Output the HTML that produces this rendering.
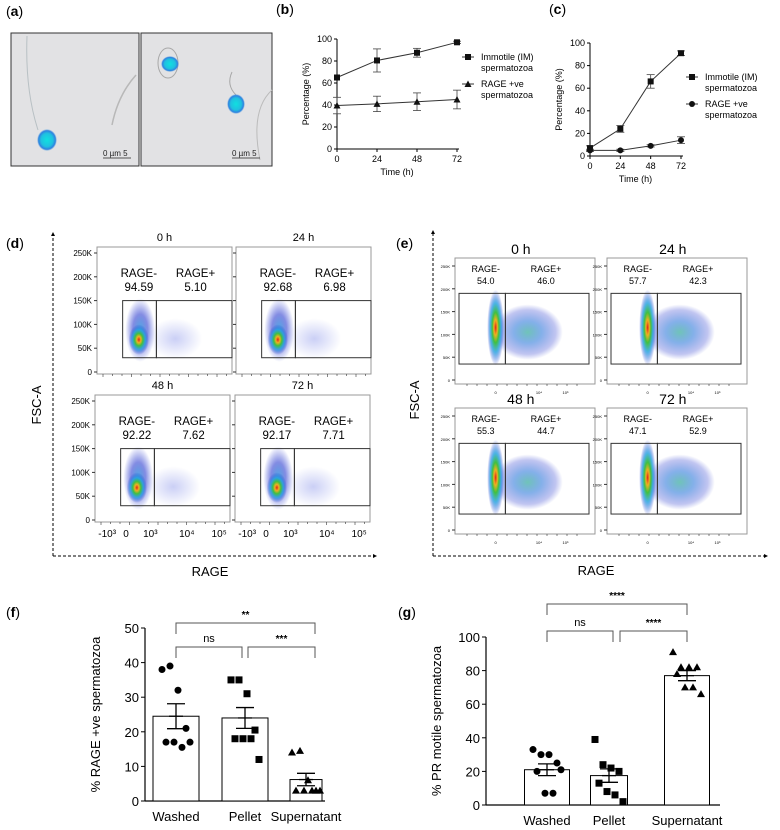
<!DOCTYPE html>
<html><head><meta charset="utf-8"><style>
body{margin:0;background:#fff}
svg{display:block;font-family:"Liberation Sans",Arial,sans-serif}
</style></head><body>
<svg id="fig" width="780" height="830" viewBox="0 0 780 830" xmlns="http://www.w3.org/2000/svg">
<defs>
<radialGradient id="hot"><stop offset="0" stop-color="#e0201a"/><stop offset="0.2" stop-color="#f0b020"/><stop offset="0.4" stop-color="#40c040"/><stop offset="0.65" stop-color="#20a0e0" stop-opacity="0.8"/><stop offset="1" stop-color="#2030d0" stop-opacity="0"/></radialGradient>
<radialGradient id="warm"><stop offset="0" stop-color="#30a0e0" stop-opacity="0.85"/><stop offset="0.5" stop-color="#3040d0" stop-opacity="0.6"/><stop offset="1" stop-color="#3040d0" stop-opacity="0"/></radialGradient>
<radialGradient id="cloud"><stop offset="0" stop-color="#40b0a0" stop-opacity="0.75"/><stop offset="0.4" stop-color="#2070d8" stop-opacity="0.55"/><stop offset="0.8" stop-color="#3040d0" stop-opacity="0.3"/><stop offset="1" stop-color="#3040d0" stop-opacity="0"/></radialGradient>
<radialGradient id="faint"><stop offset="0" stop-color="#5060e0" stop-opacity="0.3"/><stop offset="1" stop-color="#5060e0" stop-opacity="0"/></radialGradient>
<radialGradient id="cell"><stop offset="0" stop-color="#10e0e0"/><stop offset="0.6" stop-color="#20c0e0"/><stop offset="0.85" stop-color="#3080e0"/><stop offset="1" stop-color="#40a0e0" stop-opacity="0"/></radialGradient>
<marker id="arr" viewBox="0 0 10 10" refX="5" refY="5" markerWidth="4" markerHeight="4" orient="auto"><path d="M0,0L10,5L0,10z" fill="#000"/></marker>
</defs>

<text x="6" y="16" font-size="14">(<tspan font-weight="bold">a</tspan>)</text>
<g>
<rect x="11" y="33" width="128" height="133" fill="#e2e2e4" stroke="#333" stroke-width="1"/>
<path d="M27,36 Q25,90 38,130" stroke="#b8c0c4" fill="none" stroke-width="1"/>
<path d="M136,75 Q118,95 112,125" stroke="#b8b8b8" fill="none" stroke-width="1.5"/>
<ellipse cx="47" cy="140" rx="10" ry="11" fill="url(#cell)"/>
<text x="103" y="156" font-size="8" fill="#222">0 µm 5</text>
<line x1="103" y1="158" x2="131" y2="158" stroke="#222" stroke-width="0.7"/>
</g>
<g>
<rect x="141" y="33" width="131" height="133" fill="#e2e2e4" stroke="#333" stroke-width="1"/>
<ellipse cx="168" cy="63" rx="10" ry="15" fill="none" stroke="#a8a8a8"/>
<ellipse cx="170" cy="64" rx="9" ry="8" fill="url(#cell)"/>
<path d="M232,72 Q226,85 236,95" stroke="#a8a8a8" fill="none"/>
<ellipse cx="236" cy="104" rx="9" ry="10" fill="url(#cell)"/>
<path d="M272,90 Q250,110 260,160" stroke="#bbb" fill="none"/>
<text x="232" y="156" font-size="8" fill="#222">0 µm 5</text>
<line x1="232" y1="158" x2="260" y2="158" stroke="#222" stroke-width="0.7"/>
</g>

<text x="276" y="14" font-size="14">(<tspan font-weight="bold">b</tspan>)</text>
<g id="chartB"></g>
<text x="549" y="14" font-size="14">(<tspan font-weight="bold">c</tspan>)</text>
<g id="chartC"></g>

<text x="6" y="248" font-size="14">(<tspan font-weight="bold">d</tspan>)</text>
<line x1="53" y1="556" x2="53" y2="234" stroke="#000" stroke-dasharray="3,2" marker-end="url(#arr)"/>
<line x1="53" y1="556" x2="375" y2="556" stroke="#000" stroke-dasharray="3,2" marker-end="url(#arr)"/>
<text transform="translate(41,405) rotate(-90)" font-size="13" text-anchor="middle">FSC-A</text>
<text x="210" y="576" font-size="13" text-anchor="middle">RAGE</text>
<g id="flowD"></g>

<text x="396" y="248" font-size="14">(<tspan font-weight="bold">e</tspan>)</text>
<line x1="433" y1="556" x2="433" y2="232" stroke="#000" stroke-dasharray="3,2" marker-end="url(#arr)"/>
<line x1="433" y1="556" x2="766" y2="556" stroke="#000" stroke-dasharray="3,2" marker-end="url(#arr)"/>
<text transform="translate(419,400) rotate(-90)" font-size="13" text-anchor="middle">FSC-A</text>
<text x="596" y="575" font-size="13" text-anchor="middle">RAGE</text>
<g id="flowE"></g>

<text x="6" y="617" font-size="14">(<tspan font-weight="bold">f</tspan>)</text>
<g id="chartF"></g>
<text x="398" y="617" font-size="14">(<tspan font-weight="bold">g</tspan>)</text>
<g id="chartG"></g>
</svg>
<script>
const bTimes=[0,24,48,72];
const bImm=[65,80.5,87.5,97];
const bImmErr=[0,10.5,4,1];
const bRage=[39.5,41,43,45];
const bRageErr=[7.5,7,8,8.5];
const cTimes=[0,24,48,72];
const cImm=[7,24,66,91];
const cImmErr=[2,3,6,2];
const cRage=[5,5,9,14];
const cRageErr=[1,1,1,3];
const yTicks=[0,20,40,60,80,100];
const xTicksTime=[0,24,48,72];

const fCats=['Washed','Pellet','Supernatant'];
const fMeans=[24.5,24,6.2];
const fSem=[3.6,3,1.8];
const fWashed=[38,39,32,21,17,17,15.5,17];
const fPellet=[35,35,31,20.5,18,18,18,12];
const fSuper=[14,14.5,6,3,3,3,3,3];
const fTicks=[0,10,20,30,40,50];
const gCats=['Washed','Pellet','Supernatant'];
const gMeans=[21,17.5,77];
const gSem=[3.5,4,3];
const gWashed=[33,30,30,25,20,7,7,21];
const gPellet=[39,24,22,20,13,8,6,2];
const gSuper=[91,82,82,82,78,70,70,66];
const gTicks=[0,20,40,60,80,100];

const dTitles=['0 h','24 h','48 h','72 h'];
const dNeg=['94.59','92.68','92.22','92.17'];
const dPos=['5.10','6.98','7.62','7.71'];
const eTitles=['0 h','24 h','48 h','72 h'];
const eNeg=['54.0','57.7','55.3','47.1'];
const ePos=['46.0','42.3','44.7','52.9'];

const NS='http://www.w3.org/2000/svg';
function mk(parent,tag,attrs,text){const e=document.createElementNS(NS,tag);for(const k in attrs)e.setAttribute(k,attrs[k]);if(text!==undefined)e.textContent=text;parent.appendChild(e);return e;}

function lineChart(g,x,y,times,s1,e1,s2,e2,m2,legX,legY){
  const x0=x(0),y0=y(0);
  let el=mk(g,'line',{x1:x0,y1:y(100),x2:x0,y2:y0,stroke:'#000','stroke-width':1});
  
  
  el=mk(g,'line',{x1:x0,y1:y0,x2:x(72)+2,y2:y0,stroke:'#000','stroke-width':1});
  
  
  yTicks.forEach(v=>{mk(g,'line',{x1:x0-3,y1:y(v),x2:x0,y2:y(v),stroke:'#000'});
    el=mk(g,'text',{x:x0-5,y:y(v)+3,'font-size':9,'text-anchor':'end'},v);
    
    });
  xTicksTime.forEach(v=>{mk(g,'line',{x1:x(v),y1:y0,x2:x(v),y2:y0+3,stroke:'#000'});
    el=mk(g,'text',{x:x(v),y:y0+13,'font-size':9,'text-anchor':'middle'},v);
    
    });
  el=mk(g,'text',{x:(x0+x(72))/2,y:y0+26,'font-size':9,'text-anchor':'middle'},'Time (h)');
  
  
  el=mk(g,'text',{transform:`translate(${x0-28},${(y(100)+y0)/2}) rotate(-90)`,'font-size':9,'text-anchor':'middle'},'Percentage (%)');
  
  
  function series(vals,errs,marker,name){
    const pts=times.map((t,i)=>x(t)+','+y(vals[i])).join(' ');
    let p=mk(g,'polyline',{points:pts,fill:'none',stroke:'#333','stroke-width':1});
    
    
    times.forEach((t,i)=>{
      const cx=x(t),cy=y(vals[i]);
      if(errs[i]>0){mk(g,'line',{x1:cx,y1:y(vals[i]+errs[i]),x2:cx,y2:y(vals[i]-errs[i]),stroke:'#444','stroke-width':0.8});
        mk(g,'line',{x1:cx-4,y1:y(vals[i]+errs[i]),x2:cx+4,y2:y(vals[i]+errs[i]),stroke:'#444','stroke-width':0.8});
        mk(g,'line',{x1:cx-4,y1:y(vals[i]-errs[i]),x2:cx+4,y2:y(vals[i]-errs[i]),stroke:'#444','stroke-width':0.8});}
      let m;
      if(marker==='sq') m=mk(g,'rect',{x:cx-3,y:cy-3,width:6,height:6,fill:'#111'});
      else if(marker==='tri') m=mk(g,'path',{d:`M${cx},${cy-3.5}L${cx+3.5},${cy+3}L${cx-3.5},${cy+3}Z`,fill:'#111'});
      else m=mk(g,'circle',{cx:cx,cy:cy,r:3,fill:'#111'});
      
      
    });
  }
  series(s1,e1,'sq','immotile');
  series(s2,e2,m2,'rage-positive');
  const L=[[legY,'sq','Immotile (IM)'],[legY+27,m2,'RAGE +ve']];
  L.forEach(([ly,mkr,t])=>{
    mk(g,'line',{x1:legX-6,y1:ly,x2:legX+6,y2:ly,stroke:'#333'});
    if(mkr==='sq') mk(g,'rect',{x:legX-3,y:ly-3,width:6,height:6,fill:'#111'});
    else if(mkr==='tri') mk(g,'path',{d:`M${legX},${ly-3.5}L${legX+3.5},${ly+3}L${legX-3.5},${ly+3}Z`,fill:'#111'});
    else mk(g,'circle',{cx:legX,cy:ly,r:3,fill:'#111'});
    let tt=mk(g,'text',{x:legX+13,y:ly+3,'font-size':9},t);
    
    
    mk(g,'text',{x:legX+13,y:ly+14,'font-size':9},'spermatozoa');
  });
}
lineChart(document.getElementById('chartB'),t=>337+t*120/72,v=>149-v*1.1,bTimes,bImm,bImmErr,bRage,bRageErr,'tri',468,57);
lineChart(document.getElementById('chartC'),t=>590+t*91/72,v=>156-v*1.13,cTimes,cImm,cImmErr,cRage,cRageErr,'circ',692,77);

function flowPanel(g,bx,by,w,h,title,neg,pos,style,showY){
  let r=mk(g,'rect',{x:bx,y:by,width:w,height:h,fill:'#fff',stroke:'#999','stroke-width':1});
  
  
  if(style==='d'){
    const yz=by+h-2, ys=(h-8)/250;
    const yv=v=>yz-v*ys;
    [0,50,100,150,200,250].forEach(v=>{mk(g,'line',{x1:bx-3,y1:yv(v),x2:bx,y2:yv(v),stroke:'#333'});
      if(showY) mk(g,'text',{x:bx-5,y:yv(v)+3,'font-size':8,'text-anchor':'end'},v===0?'0':v+'K');});
    const gx1=bx+w*0.19,gx2=bx+w*0.44;
    mk(g,'ellipse',{cx:bx+w*0.58,cy:yv(70),rx:w*0.2,ry:h*0.16,fill:'url(#faint)'});
    mk(g,'ellipse',{cx:bx+w*0.32,cy:yv(88),rx:w*0.11,ry:h*0.25,fill:'url(#warm)'});
    mk(g,'ellipse',{cx:bx+w*0.31,cy:yv(68),rx:w*0.075,ry:h*0.12,fill:'url(#hot)'});
    mk(g,'rect',{x:gx1,y:yv(150),width:gx2-gx1,height:yv(30)-yv(150),fill:'none',stroke:'#333','stroke-width':1});
    mk(g,'rect',{x:gx2,y:yv(150),width:bx+w-gx2,height:yv(30)-yv(150),fill:'none',stroke:'#333','stroke-width':1});
    let t=mk(g,'text',{x:bx+w/2,y:by-6,'font-size':11,'text-anchor':'middle'},title);
    
    
    mk(g,'text',{x:bx+w*0.31,y:by+30,'font-size':11.5,'text-anchor':'middle'},'RAGE-');
    mk(g,'text',{x:bx+w*0.31,y:by+44,'font-size':11.5,'text-anchor':'middle'},neg);
    mk(g,'text',{x:bx+w*0.73,y:by+30,'font-size':11.5,'text-anchor':'middle'},'RAGE+');
    mk(g,'text',{x:bx+w*0.73,y:by+44,'font-size':11.5,'text-anchor':'middle'},pos);
    for(let i=0;i<14;i++){mk(g,'line',{x1:bx+6+i*9.5,y1:by+h,x2:bx+6+i*9.5,y2:by+h+(i%3===0?3:2),stroke:'#333','stroke-width':0.6});}
  } else {
    const yz=by+h-4, ys=(h-12)/250;
    const yv=v=>yz-v*ys;
    [0,50,100,150,200,250].forEach(v=>{mk(g,'line',{x1:bx-3,y1:yv(v),x2:bx,y2:yv(v),stroke:'#333'});
      mk(g,'text',{x:bx-5,y:yv(v)+2,'font-size':4,'text-anchor':'end'},v===0?'0':v+'K');});
    const gx1=bx+4,gx2=bx+w*0.36;
    mk(g,'ellipse',{cx:bx+w*0.52,cy:yv(105),rx:w*0.25,ry:h*0.22,fill:'url(#cloud)'});
    mk(g,'ellipse',{cx:bx+w*0.29,cy:yv(115),rx:w*0.06,ry:h*0.3,fill:'url(#hot)'});
    mk(g,'rect',{x:gx1,y:yv(190),width:gx2-gx1,height:yv(35)-yv(190),fill:'none',stroke:'#333','stroke-width':1});
    mk(g,'rect',{x:gx2,y:yv(190),width:bx+w-6-gx2,height:yv(35)-yv(190),fill:'none',stroke:'#333','stroke-width':1});
    let t=mk(g,'text',{x:bx+w*0.47,y:by-4,'font-size':14,'text-anchor':'middle'},title);
    
    
    mk(g,'text',{x:bx+w*0.22,y:by+14,'font-size':9,'text-anchor':'middle'},'RAGE-');
    mk(g,'text',{x:bx+w*0.22,y:by+26,'font-size':9,'text-anchor':'middle'},neg);
    mk(g,'text',{x:bx+w*0.65,y:by+14,'font-size':9,'text-anchor':'middle'},'RAGE+');
    mk(g,'text',{x:bx+w*0.65,y:by+26,'font-size':9,'text-anchor':'middle'},pos);
    for(let i=0;i<12;i++){mk(g,'line',{x1:bx+12+i*10,y1:by+h,x2:bx+12+i*10,y2:by+h+2,stroke:'#333','stroke-width':0.6});}
    mk(g,'text',{x:bx+w*0.29,y:by+h+10,'font-size':4,'text-anchor':'middle'},'0');
    mk(g,'text',{x:bx+w*0.6,y:by+h+10,'font-size':4,'text-anchor':'middle'},'10⁴');
    mk(g,'text',{x:bx+w*0.79,y:by+h+10,'font-size':4,'text-anchor':'middle'},'10⁵');
  }
}
const fd=document.getElementById('flowD');
const dPos4=[[97,247],[236,247],[95,395],[235,395]];
dTitles.forEach((t,i)=>flowPanel(fd,dPos4[i][0],dPos4[i][1],135,127,t,dNeg[i],dPos[i],'d',i%2===0));
[[95],[235]].forEach(([bx])=>{
  [['-10³',0.09],['0',0.23],['10³',0.41],['10⁴',0.68],['10⁵',0.92]].forEach(([s,f])=>{
    mk(fd,'text',{x:bx+135*f,y:537,'font-size':10,'text-anchor':'middle'},s);});
});
const fe=document.getElementById('flowE');
const ePos4=[[455,258],[607,258],[455,408],[607,408]];
eTitles.forEach((t,i)=>flowPanel(fe,ePos4[i][0],ePos4[i][1],140,126,t,eNeg[i],ePos[i],'e',true));

function barChart(g,ax,y,yMax,ticks,cats,centers,widths,means,sems,groups,markers,yTitle,brackets,xEnd){
  const y0=y(0);
  let el=mk(g,'line',{x1:ax,y1:y(yMax),x2:ax,y2:y0,stroke:'#000','stroke-width':1.2});
  
  
  el=mk(g,'line',{x1:ax,y1:y0,x2:xEnd,y2:y0,stroke:'#000','stroke-width':1.2});
  
  
  ticks.forEach(v=>{mk(g,'line',{x1:ax-4,y1:y(v),x2:ax,y2:y(v),stroke:'#000'});
    el=mk(g,'text',{x:ax-6,y:y(v)+5,'font-size':13,'text-anchor':'end'},v);
    
    });
  el=mk(g,'text',{transform:`translate(${ax-45},${(y(yMax)+y0)/2}) rotate(-90)`,'font-size':13,'text-anchor':'middle'},yTitle);
  
  
  cats.forEach((c,i)=>{
    const cx=centers[i],w=widths[i];
    let b=mk(g,'rect',{x:cx-w/2,y:y(means[i]),width:w,height:y0-y(means[i]),fill:'#fff',stroke:'#000','stroke-width':1});
    
    
    const pts=groups[i];
    pts.forEach((v,j)=>{
      const px=cx+((j%4)-1.5)*8+(j>=4?4:0)-2, py=y(v);
      let m;
      if(markers[i]==='c') m=mk(g,'circle',{cx:px,cy:py,r:3.5,fill:'#000'});
      else if(markers[i]==='s') m=mk(g,'rect',{x:px-3.5,y:py-3.5,width:7,height:7,fill:'#000'});
      else m=mk(g,'path',{d:`M${px},${py-4}L${px+4},${py+3}L${px-4},${py+3}Z`,fill:'#000'});
      
      
    });
    mk(g,'line',{x1:cx,y1:y(means[i]+sems[i]),x2:cx,y2:y(means[i]-sems[i]),stroke:'#000','stroke-width':1.3});
    mk(g,'line',{x1:cx-9,y1:y(means[i]+sems[i]),x2:cx+9,y2:y(means[i]+sems[i]),stroke:'#000','stroke-width':1.3});
    mk(g,'line',{x1:cx-9,y1:y(means[i]-sems[i]),x2:cx+9,y2:y(means[i]-sems[i]),stroke:'#000','stroke-width':1.3});
    mk(g,'line',{x1:cx-7,y1:y(means[i]),x2:cx+7,y2:y(means[i]),stroke:'#000','stroke-width':1.3});
    el=mk(g,'text',{x:cx,y:y0+20,'font-size':13,'text-anchor':'middle'},c);
    
    
  });
  brackets.forEach(([x1,x2,by,lab])=>{
    let p=mk(g,'path',{d:`M${x1},${by+11}V${by}H${x2}V${by+11}`,fill:'none',stroke:'#555','stroke-width':1});
    
    
    mk(g,'text',{x:(x1+x2)/2,y:by-5,'font-size':lab==='ns'?11:10,'text-anchor':'middle','font-weight':lab==='ns'?'normal':'bold'},lab);
  });
}
const yF=v=>801-v*3.46;
barChart(document.getElementById('chartF'),145,yF,50,fTicks,fCats,[176,245,306],[46,46,32],fMeans,fSem,[fWashed,fPellet,fSuper],['c','s','t'],'% RAGE +ve spermatozoa',
  [[176,315,623,'**'],[176,242,647,'ns'],[248,315,647,'***']],325);
const yG=v=>805-v*1.68;
barChart(document.getElementById('chartG'),486,yG,100,gTicks,gCats,[547,609,687],[45,37,45],gMeans,gSem,[gWashed,gPellet,gSuper],['c','s','t'],'% PR motile spermatozoa',
  [[547,687,604,'****'],[547,613,631,'ns'],[620,687,631,'****']],720);
</script>
</body></html>
